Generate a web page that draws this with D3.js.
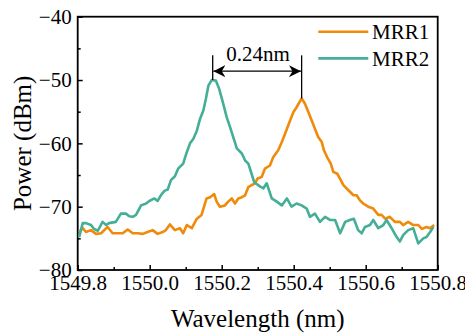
<!DOCTYPE html>
<html lang="en">
<head>
<meta charset="UTF-8" />
<title>MRR spectra</title>
<script src="https://d3js.org/d3.v7.min.js"></script>
<style>
  body { margin: 0; background: #fff; }
  .axis path { display: none; }
  .axis line { stroke: #000; stroke-width: 1.5px; }
</style>
</head>
<body>
<div id="chart"></div>
<script>
// wavelength (nm) / power (dBm)
const mrr1Wl = [1549.804, 1549.814, 1549.823, 1549.837, 1549.851, 1549.865, 1549.883, 1549.897, 1549.911, 1549.925,
  1549.939, 1549.953, 1549.967, 1549.981, 1549.994, 1550.008, 1550.022, 1550.036, 1550.045, 1550.056,
  1550.070, 1550.084, 1550.093, 1550.103, 1550.117, 1550.131, 1550.144, 1550.158, 1550.168, 1550.179,
  1550.186, 1550.195, 1550.209, 1550.218, 1550.228, 1550.237, 1550.246, 1550.256, 1550.265, 1550.274,
  1550.283, 1550.293, 1550.299, 1550.311, 1550.320, 1550.334, 1550.343, 1550.357, 1550.367, 1550.376,
  1550.390, 1550.399, 1550.408, 1550.422, 1550.431, 1550.441, 1550.450, 1550.459, 1550.468, 1550.478,
  1550.484, 1550.493, 1550.503, 1550.510, 1550.521, 1550.529, 1550.538, 1550.552, 1550.566, 1550.575,
  1550.584, 1550.593, 1550.607, 1550.621, 1550.635, 1550.644, 1550.654, 1550.667, 1550.681, 1550.695,
  1550.704, 1550.718, 1550.732, 1550.746, 1550.756, 1550.769, 1550.779, 1550.790];
const mrr1Pw = [-74.0, -73.4, -74.0, -73.7, -74.3, -74.2, -73.2, -74.2, -74.2, -74.2,
  -73.6, -74.2, -74.2, -74.3, -74.0, -73.7, -74.3, -74.0, -73.7, -72.8,
  -73.7, -73.4, -74.2, -72.9, -73.4, -71.9, -71.3, -68.7, -68.5, -68.0,
  -69.2, -70.0, -69.8, -69.2, -68.7, -69.5, -68.7, -68.5, -68.2, -66.9,
  -66.6, -66.3, -65.6, -65.3, -64.0, -63.5, -62.2, -61.1, -59.8, -58.5,
  -56.4, -55.1, -54.3, -52.9, -53.7, -55.1, -56.4, -57.7, -59.0, -59.8,
  -61.1, -62.2, -63.2, -64.5, -64.8, -65.6, -66.6, -67.4, -68.2, -68.2,
  -69.0, -69.5, -70.0, -70.3, -71.3, -71.3, -71.9, -71.6, -72.4, -72.4,
  -72.9, -72.4, -72.9, -72.9, -73.5, -73.2, -73.4, -72.9];

const mrr2Wl = [1549.804, 1549.814, 1549.823, 1549.837, 1549.845, 1549.856, 1549.869, 1549.879, 1549.887, 1549.906,
  1549.920, 1549.934, 1549.943, 1549.953, 1549.962, 1549.976, 1549.990, 1549.999, 1550.013, 1550.022,
  1550.031, 1550.041, 1550.050, 1550.059, 1550.070, 1550.079, 1550.093, 1550.103, 1550.112, 1550.121,
  1550.131, 1550.140, 1550.149, 1550.156, 1550.163, 1550.172, 1550.184, 1550.193, 1550.204, 1550.214,
  1550.223, 1550.232, 1550.242, 1550.256, 1550.265, 1550.274, 1550.283, 1550.290, 1550.299, 1550.306,
  1550.316, 1550.325, 1550.339, 1550.353, 1550.367, 1550.381, 1550.394, 1550.408, 1550.422, 1550.436,
  1550.445, 1550.459, 1550.473, 1550.487, 1550.501, 1550.515, 1550.529, 1550.543, 1550.556, 1550.567,
  1550.579, 1550.589, 1550.598, 1550.612, 1550.621, 1550.635, 1550.649, 1550.658, 1550.672, 1550.686,
  1550.695, 1550.704, 1550.718, 1550.732, 1550.746, 1550.760, 1550.769, 1550.779, 1550.788];
const mrr2Pw = [-74.8, -72.6, -72.6, -72.9, -73.5, -73.8, -72.4, -72.9, -72.6, -72.4,
  -71.1, -71.1, -71.5, -71.6, -71.3, -69.8, -69.5, -69.1, -68.7, -69.1,
  -68.2, -67.5, -67.3, -65.8, -65.2, -64.0, -63.2, -61.4, -60.0, -59.3,
  -58.0, -56.1, -54.8, -53.0, -50.9, -50.0, -50.1, -51.4, -53.7, -55.9,
  -57.4, -59.0, -60.8, -61.6, -62.7, -63.2, -64.8, -66.1, -66.5, -66.8,
  -67.1, -66.3, -68.7, -69.2, -69.8, -68.7, -70.0, -69.5, -69.8, -70.3,
  -71.6, -71.1, -72.4, -71.6, -72.1, -72.1, -74.2, -72.4, -72.1, -71.9,
  -73.7, -74.2, -73.2, -72.9, -72.1, -73.4, -72.9, -72.1, -73.4, -74.8,
  -75.5, -74.5, -73.7, -73.4, -75.8, -75.0, -74.8, -74.0, -73.2];

const seriesNames = ["MRR1", "MRR2"];
const seriesColors = ["#f08a0a", "#44ae97"];

const xTicks = [1549.8, 1550.0, 1550.2, 1550.4, 1550.6, 1550.8];
const xMinor = [1549.9, 1550.1, 1550.3, 1550.5, 1550.7];
const yTicks = [-80, -70, -60, -50, -40];
const yMinor = [-75, -65, -55, -45];

// resonance peaks marked by the 0.24nm annotation
const peakWl = [1550.175, 1550.422];
const peakPw = [-50.0, -52.9];
const spacingLabel = "0.24nm";

const serif = "Liberation Serif";
const width = 465, height = 336;
const margin = { top: 16.7, right: 27.3, bottom: 66, left: 77.7 };

const svg = d3.select("#chart").append("svg")
  .attr("width", width).attr("height", height);

const x = d3.scaleLinear().domain([1549.8, 1550.8]).range([margin.left, width - margin.right]);
const y = d3.scaleLinear().domain([-80, -40]).range([height - margin.bottom, margin.top]);

// axes, ticks pointing inward
svg.append("g").attr("class", "axis")
  .attr("transform", `translate(0,${y(-80)})`)
  .call(d3.axisBottom(x).tickValues(xTicks).tickFormat(d3.format(".1f"))
    .tickSizeInner(-5).tickSizeOuter(0).tickPadding(5));

svg.append("g").attr("class", "axis")
  .attr("transform", `translate(0,${y(-80)})`)
  .call(d3.axisBottom(x).tickValues(xMinor).tickFormat("").tickSizeInner(-3).tickSizeOuter(0));

svg.append("g").attr("class", "axis")
  .attr("transform", `translate(${x(1549.8)},0)`)
  .call(d3.axisLeft(y).tickValues(yTicks).tickFormat(d3.format("d"))
    .tickSizeInner(-5).tickSizeOuter(0).tickPadding(6));

svg.append("g").attr("class", "axis")
  .attr("transform", `translate(${x(1549.8)},0)`)
  .call(d3.axisLeft(y).tickValues(yMinor).tickFormat("").tickSizeInner(-3).tickSizeOuter(0));

// frame
svg.append("rect")
  .attr("x", x(1549.8)).attr("y", y(-40))
  .attr("width", x(1550.8) - x(1549.8)).attr("height", y(-80) - y(-40))
  .attr("fill", "none").attr("stroke", "#000").attr("stroke-width", 1.8);

// curves
const line = d3.line().x(d => x(d[0])).y(d => y(d[1]));
const series = [
  d3.zip(mrr1Wl, mrr1Pw),
  d3.zip(mrr2Wl, mrr2Pw)
];
series.forEach((pts, i) => {
  svg.append("path")
    .datum(pts)
    .attr("d", line)
    .attr("fill", "none")
    .attr("stroke", seriesColors[i])
    .attr("stroke-width", 2.6)
    .attr("stroke-linejoin", "round");
});

// annotation: spacing between peaks
const annTop = -46.1, arrowPw = -48.6;
peakWl.forEach((w, i) => {
  svg.append("line")
    .attr("x1", x(w)).attr("x2", x(w))
    .attr("y1", y(annTop)).attr("y2", y(peakPw[i]))
    .attr("stroke", "#000").attr("stroke-width", 1.3);
});

const defs = svg.append("defs");
defs.append("marker")
  .attr("id", "head").attr("viewBox", "0 0 10 10")
  .attr("refX", 10).attr("refY", 5)
  .attr("markerWidth", 12).attr("markerHeight", 12)
  .attr("markerUnits", "userSpaceOnUse")
  .attr("orient", "auto-start-reverse")
  .append("path").attr("d", "M0,0 L10,5 L0,10 L3,5 Z").attr("fill", "#000");

svg.append("line")
  .attr("x1", x(peakWl[0]) + 0.7).attr("x2", x(peakWl[1]) - 0.7)
  .attr("y1", y(arrowPw)).attr("y2", y(arrowPw))
  .attr("stroke", "#000").attr("stroke-width", 1.3)
  .attr("marker-start", "url(#head)").attr("marker-end", "url(#head)");

svg.append("text")
  .attr("x", (x(peakWl[0]) + x(peakWl[1])) / 2 + 1)
  .attr("y", 61)
  .attr("text-anchor", "middle")
  .text(spacingLabel);

// legend
const legend = svg.append("g");
seriesNames.forEach((name, i) => {
  const ly = 31.7 + i * 26.7;
  legend.append("line")
    .attr("x1", 318.3).attr("x2", 368.3).attr("y1", ly).attr("y2", ly)
    .attr("stroke", seriesColors[i]).attr("stroke-width", 2.6);
  legend.append("text")
    .attr("x", 372).attr("y", ly + 7.3)
    .text(name);
});

// every small label: serif, 21px, black
svg.selectAll("text")
  .style("font-family", serif)
  .style("font-size", "21px")
  .style("fill", "#000");

// axis titles
svg.append("text")
  .attr("x", (x(1549.8) + x(1550.8)) / 2).attr("y", 327)
  .attr("text-anchor", "middle")
  .style("font-family", serif)
  .style("fill", "#000")
  .style("font-size", "25px")
  .text("Wavelength (nm)");

svg.append("text")
  .attr("transform", `translate(31,${(y(-40) + y(-80)) / 2}) rotate(-90)`)
  .attr("text-anchor", "middle")
  .style("font-family", serif)
  .style("fill", "#000")
  .style("font-size", "25px")
  .text("Power (dBm)");
</script>
</body>
</html>
